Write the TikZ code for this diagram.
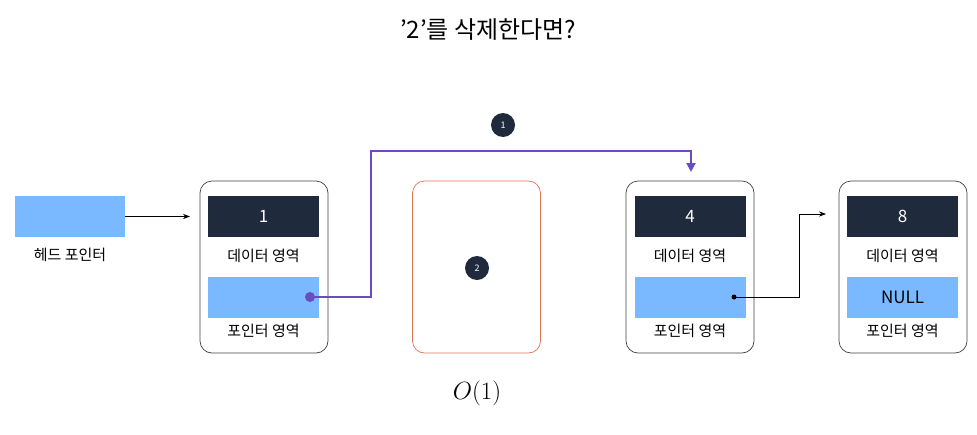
\documentclass[tikz,border=0pt]{standalone}
\usepackage{fontspec}
\setmainfont{Noto Sans CJK KR}
\usetikzlibrary{arrows.meta}
\definecolor{navy}{HTML}{1F2A3C}
\definecolor{ptrblue}{HTML}{7AB8FF}
\definecolor{delred}{HTML}{E07458}
\definecolor{linkpurple}{HTML}{6A4CC0}
\tikzset{
	nodebox/.style={draw=black!75, rounded corners=12pt, line width=0.7pt, minimum width=128pt, minimum height=172pt},
	databox/.style={fill=navy, text=white, minimum width=111pt, minimum height=41pt, font=\fontsize{17}{17}\selectfont},
	ptrbox/.style={fill=ptrblue, minimum width=111pt, minimum height=41pt, font=\fontsize{17}{17}\selectfont},
	area/.style={font=\fontsize{15}{15}\selectfont},
	step num/.style={circle, fill=navy, text=white, minimum size=24pt, inner sep=0pt, font=\fontsize{9}{9}\selectfont},
}
\begin{document}
\begin{tikzpicture}[x=1pt, y=-1pt]
	\useasboundingbox (0, 0) rectangle (977, 434);

	\node[font=\fontsize{24}{24}\selectfont] (title) at (488, 30) {'2'를 삭제한다면?};

	\node[ptrbox, minimum width=110pt] (head) at (70, 216.5) {};
	\node[area] (headlbl) at (70, 255) {헤드 포인터};

	% node 1
	\node[nodebox] (n1) at (264, 267) {};
	\node[databox] (d1) at (263.5, 216.5) {1};
	\node[area] (d1lbl) at (263.5, 256) {데이터 영역};
	\node[ptrbox] (p1) at (263.5, 297.5) {};
	\node[area] (p1lbl) at (263.5, 331) {포인터 영역};

	% deleted node 2
	\node[nodebox, draw=delred] (n2) at (476.5, 267) {};
	\node[step num] (s2) at (477, 268) {2};

	% node 4
	\node[nodebox] (n4) at (690, 267) {};
	\node[databox] (d4) at (690, 216.5) {4};
	\node[area] (d4lbl) at (690, 256) {데이터 영역};
	\node[ptrbox] (p4) at (690, 297.5) {};
	\node[area] (p4lbl) at (690, 331) {포인터 영역};

	% node 8
	\node[nodebox] (n8) at (903, 267) {};
	\node[databox] (d8) at (902.5, 216.5) {8};
	\node[area] (d8lbl) at (902.5, 256) {데이터 영역};
	\node[ptrbox] (p8) at (902.5, 297.5) {NULL};
	\node[area] (p8lbl) at (902.5, 331) {포인터 영역};

	\node[step num] (s1) at (503, 125) {1};

	\coordinate (dot1) at (310, 297);
	\coordinate (dot4) at (734, 297);
	\coordinate (tip1) at (691, 172);
	\coordinate (tip4) at (826, 214);

	\draw[-{Stealth[length=7pt]}, line width=0.8pt] (head.east) -- (190, 216.5);
	\draw[linkpurple, line width=2pt, -{Triangle[length=9pt, width=9pt]}] (dot1) -- (371, 297) -- (371, 151) -- (691, 151) -- (tip1);
	\fill[linkpurple] (dot1) circle (5pt);
	\draw[-{Stealth[length=7pt]}, line width=0.8pt] (dot4) -- (799, 297) -- (799, 214) -- (tip4);
	\fill (dot4) circle (2.5pt);

	\node[font=\fontsize{44}{44}\selectfont] (cost) at (477, 393) {$O(1)$};
\end{tikzpicture}
\end{document}
